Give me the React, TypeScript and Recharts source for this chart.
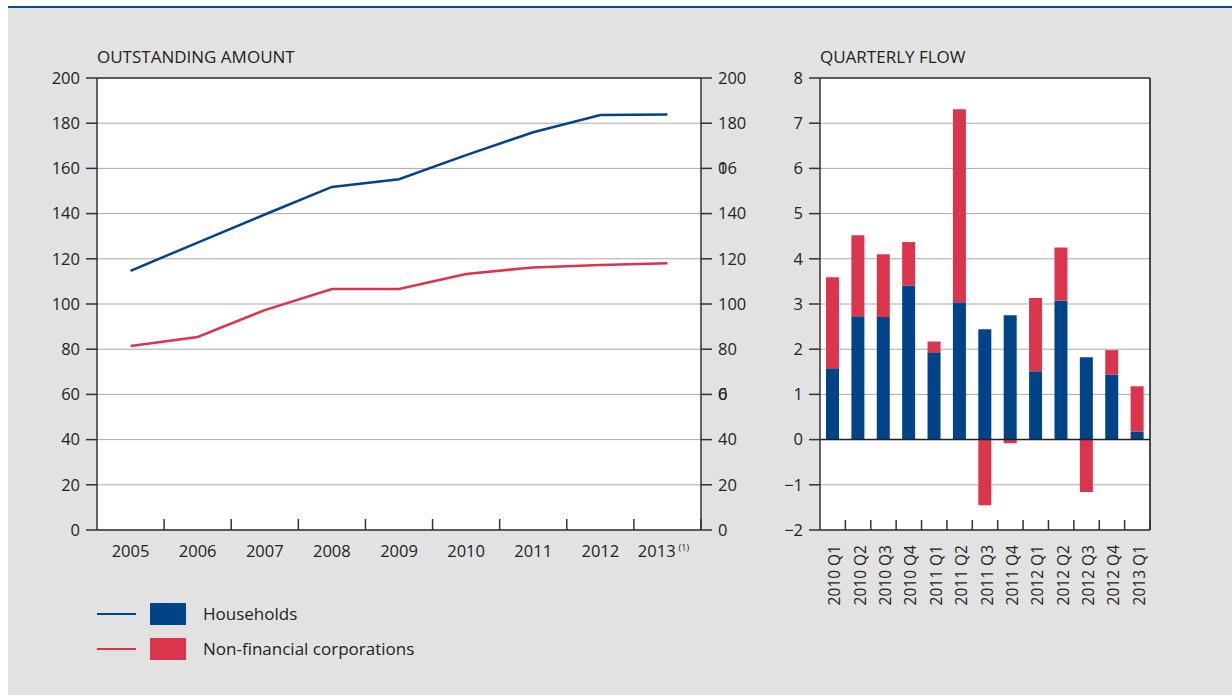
import React from 'react';
import {
  LineChart, Line, BarChart, Bar, XAxis, YAxis, CartesianGrid, ReferenceLine,
} from 'recharts';

// Outstanding amount (left panel)
const years = ['2005', '2006', '2007', '2008', '2009', '2010', '2011', '2012', '2013'];
const householdsStock = [114.7, 127.2, 139.6, 151.8, 155.2, 165.9, 176.0, 183.6, 183.8];
const corporationsStock = [81.4, 85.4, 97.3, 106.6, 106.6, 113.3, 116.2, 117.3, 118.0];
const stockTicks = [0, 20, 40, 60, 80, 100, 120, 140, 160, 180, 200];

// Quarterly flow (right panel)
const quarters = [
  '2010 Q1', '2010 Q2', '2010 Q3', '2010 Q4', '2011 Q1', '2011 Q2', '2011 Q3',
  '2011 Q4', '2012 Q1', '2012 Q2', '2012 Q3', '2012 Q4', '2013 Q1',
];
const householdsFlow = [1.58, 2.73, 2.71, 3.41, 1.93, 3.04, 2.44, 2.75, 1.51, 3.08, 1.82, 1.44, 0.18];
const corporationsFlow = [2.01, 1.79, 1.39, 0.96, 0.24, 4.27, -1.45, -0.08, 1.62, 1.17, -1.16, 0.54, 1.0];
const flowTicks = [-2, -1, 0, 1, 2, 3, 4, 5, 6, 7, 8];

const series = [
  { name: 'Households', color: '#004387' },
  { name: 'Non-financial corporations', color: '#d9354d' },
];

const FONT = '"Open Sans", "Noto Sans", sans-serif';
const TEXT = '#222';
const AXIS = '#333';
const GRID = '#a9a9a9';
const TICK_FS = 16.5;

const stockData = years.map((y, i) => ({
  year: y,
  hh: householdsStock[i],
  nfc: corporationsStock[i],
}));

const flowData = quarters.map((q, i) => ({
  quarter: q,
  hh: householdsFlow[i],
  nfc: corporationsFlow[i],
}));

// half a category band, used to put tick marks between categories
const HALF_YEAR = 604 / years.length / 2;
const HALF_QUARTER = 330 / quarters.length / 2;
const YEAR_MARGIN = 15;
const QUARTER_MARGIN = 15;

const fmtFlow = (v: number) => (v < 0 ? `\u2212${-v}` : `${v}`);

function YearTick({ x, y, payload }: any) {
  const bx = x + HALF_YEAR;
  const isLast = payload.value === '2013';
  return (
    <g>
      <line x1={bx} x2={bx} y1={y - YEAR_MARGIN - 11} y2={y - YEAR_MARGIN} stroke={AXIS} strokeWidth={1.5} />
      <text x={isLast ? x - 4 : x} y={y} dy="0.71em" textAnchor="middle" fill={TEXT} fontSize={TICK_FS} fontFamily={FONT}>
        {payload.value}
        {isLast && (
          <tspan dx={3} dy={-6} fontSize={9}>(1)</tspan>
        )}
      </text>
    </g>
  );
}

// right-hand stock axis: the source prints 160 and 60 with overlapping glyphs
function RightStockTick({ x, y, payload }: any) {
  const v = payload.value;
  const common = { y, dy: '0.355em', fill: TEXT, fontSize: TICK_FS, fontFamily: FONT, textAnchor: 'start' as const };
  if (v === 160) {
    return (
      <g>
        <text x={x} {...common}>16</text>
        <text x={x} {...common}>0</text>
      </g>
    );
  }
  if (v === 60) {
    return (
      <g>
        <text x={x} {...common}>6</text>
        <text x={x} {...common}>0</text>
      </g>
    );
  }
  return <text x={x} {...common}>{v}</text>;
}

function QuarterTick({ x, y, payload }: any) {
  const bx = x + HALF_QUARTER;
  const tx = x + 2;
  return (
    <g>
      <line x1={bx} x2={bx} y1={y - QUARTER_MARGIN - 10} y2={y - QUARTER_MARGIN} stroke={AXIS} strokeWidth={1.5} />
      <text
        x={tx}
        y={y}
        dy="0.355em"
        transform={`rotate(-90, ${tx}, ${y})`}
        textAnchor="end"
        fill={TEXT}
        fontSize={15.5}
        fontFamily={FONT}
      >
        {payload.value}
      </text>
    </g>
  );
}

const tickStyle = { fill: TEXT, fontSize: TICK_FS, fontFamily: FONT };

export default function App() {
  return (
    <div
      style={{
        position: 'fixed',
        left: 8,
        top: 6,
        width: 1224,
        height: 689,
        background: '#e2e2e2',
        borderTop: '2px solid #0b4a8b',
        boxSizing: 'border-box',
        fontFamily: FONT,
        color: TEXT,
      }}
    >
      <div style={{ position: 'absolute', left: 89, top: 40, fontSize: 17, lineHeight: '17px' }}>
        OUTSTANDING AMOUNT
      </div>
      <div style={{ position: 'absolute', left: 812, top: 40, fontSize: 17, lineHeight: '17px' }}>
        QUARTERLY FLOW
      </div>

      {/* Left: outstanding amount */}
      <div style={{ position: 'absolute', left: 0, top: 0 }}>
        <LineChart width={780} height={600} data={stockData} margin={{ top: 70, right: 27, bottom: 38, left: 0 }}>
          <CartesianGrid yAxisId="l" horizontal vertical={false} stroke={GRID} fill="#fff" />
          <XAxis
            dataKey="year"
            scale="band"
            interval={0}
            height={40}
            tickSize={0}
            tickMargin={YEAR_MARGIN}
            tickLine={false}
            axisLine={{ stroke: AXIS, strokeWidth: 1.5 }}
            tick={(p: any) => <YearTick {...p} />}
          />
          <YAxis
            yAxisId="l"
            domain={[0, 200]}
            ticks={stockTicks}
            width={89}
            tickSize={11}
            tickMargin={6}
            tick={tickStyle}
            tickLine={{ stroke: AXIS, strokeWidth: 1.5 }}
            axisLine={{ stroke: AXIS, strokeWidth: 1.5 }}
          />
          <YAxis
            yAxisId="r"
            orientation="right"
            domain={[0, 200]}
            ticks={stockTicks}
            width={60}
            tickSize={11}
            tickMargin={6}
            tick={(p: any) => <RightStockTick {...p} />}
            tickLine={{ stroke: AXIS, strokeWidth: 1.5 }}
            axisLine={{ stroke: AXIS, strokeWidth: 1.5 }}
          />
          <ReferenceLine yAxisId="l" y={200} stroke={AXIS} strokeWidth={1.5} />
          <Line yAxisId="l" dataKey="hh" stroke={series[0].color} strokeWidth={2.5} dot={false} isAnimationActive={false} />
          <Line yAxisId="r" dataKey="nfc" stroke={series[1].color} strokeWidth={2.5} dot={false} isAnimationActive={false} />
        </LineChart>
      </div>

      {/* Right: quarterly flow */}
      <div style={{ position: 'absolute', left: 740, top: 0 }}>
        <BarChart
          width={470}
          height={600}
          data={flowData}
          stackOffset="sign"
          margin={{ top: 70, right: 18, bottom: 8, left: 0 }}
        >
          <CartesianGrid horizontal vertical={false} stroke={GRID} fill="#fff" />
          <XAxis
            dataKey="quarter"
            interval={0}
            height={70}
            tickSize={0}
            tickMargin={QUARTER_MARGIN}
            tickLine={false}
            axisLine={{ stroke: AXIS, strokeWidth: 1.5 }}
            tick={(p: any) => <QuarterTick {...p} />}
          />
          <YAxis
            domain={[-2, 8]}
            ticks={flowTicks}
            width={72}
            tickSize={11}
            tickMargin={6}
            tick={tickStyle}
            tickFormatter={fmtFlow}
            tickLine={{ stroke: AXIS, strokeWidth: 1.5 }}
            axisLine={{ stroke: AXIS, strokeWidth: 1.5 }}
          />
          <YAxis
            yAxisId="r"
            orientation="right"
            domain={[-2, 8]}
            ticks={flowTicks}
            width={50}
            tickSize={11}
            tickMargin={5}
            tick={tickStyle}
            tickFormatter={fmtFlow}
            tickLine={{ stroke: AXIS, strokeWidth: 1.5 }}
            axisLine={{ stroke: '#111', strokeWidth: 1.5 }}
          />
          <ReferenceLine y={8} stroke={AXIS} strokeWidth={1.5} />
          <Bar dataKey="hh" stackId="a" fill={series[0].color} barSize={13} isAnimationActive={false} />
          <Bar dataKey="nfc" stackId="a" fill={series[1].color} barSize={13} isAnimationActive={false} />
          <ReferenceLine y={0} stroke="#222" strokeWidth={1.5} />
        </BarChart>
      </div>

      {/* Legend */}
      {series.map((s, i) => (
        <div key={s.name} style={{ position: 'absolute', left: 89, top: 595 + i * 35, height: 22, display: 'flex', alignItems: 'center' }}>
          <div style={{ width: 39, height: 2.5, background: s.color }} />
          <div style={{ width: 36, height: 22, background: s.color, marginLeft: 14 }} />
          <div style={{ marginLeft: 17, fontSize: 17, lineHeight: '22px' }}>{s.name}</div>
        </div>
      ))}
    </div>
  );
}
